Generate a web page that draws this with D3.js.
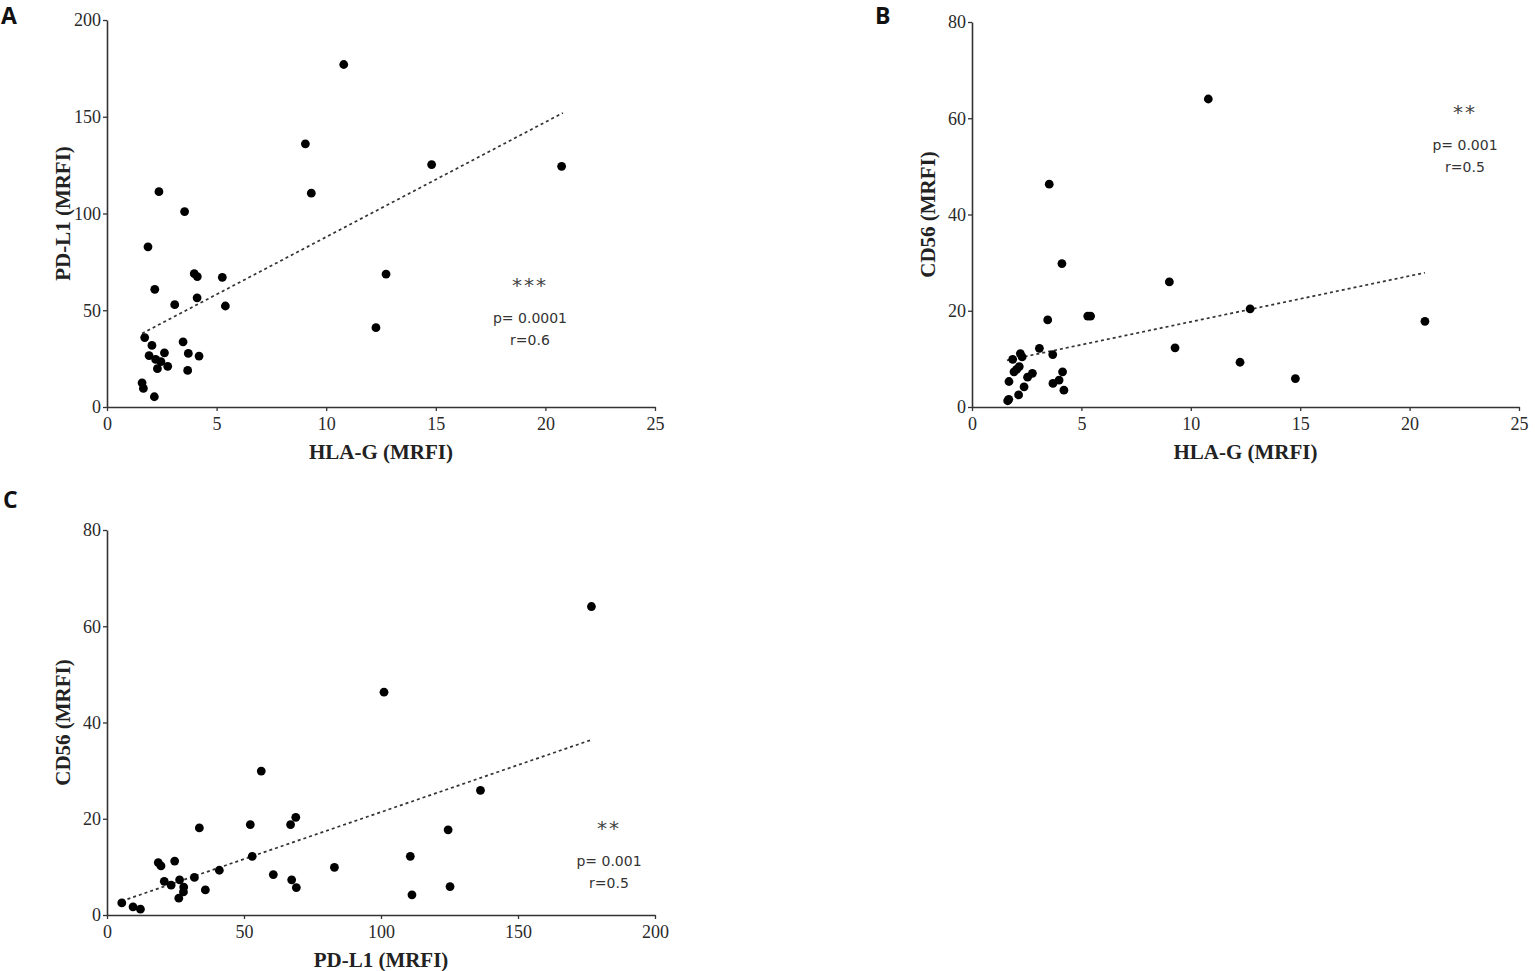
<!DOCTYPE html>
<html>
<head>
<meta charset="utf-8">
<script src="https://cdn.jsdelivr.net/npm/d3@7"></script>
<style>
  html, body { margin: 0; padding: 0; background: #fff; }
  svg { display: block; }
</style>
</head>
<body>
<svg id="chart" width="1535" height="971"></svg>
<script>
// ---------- DATA ----------
// Panel A: HLA-G (x) vs PD-L1 (y)
const hlaA  = [10.8, 9.05, 9.32, 14.81, 20.74, 12.73, 12.27, 2.37, 3.54, 1.87, 3.98, 4.12, 5.26, 2.18, 4.11, 3.09, 5.40, 1.72, 2.05, 3.47, 1.92, 2.62, 2.22, 2.46, 3.71, 4.20, 2.30, 2.77, 3.68, 1.60, 1.66, 2.16];
const pdl1A = [177, 136, 110.5, 125.3, 124.4, 68.7, 41, 111.3, 101, 82.8, 68.9, 67.4, 67, 60.8, 56.4, 52.9, 52.2, 35.9, 31.8, 33.7, 26.6, 28, 24.6, 23.4, 27.7, 26.3, 19.8, 21, 18.9, 12.5, 9.6, 5.3];
const fitXA = [1.6, 20.8];
const fitYA = [38, 152];

// Panel B: HLA-G (x) vs CD56 (y)
const hlaB  = [10.80, 9.02, 12.71, 9.28, 12.25, 14.78, 20.70, 3.53, 4.11, 3.46, 5.29, 5.42, 3.08, 3.69, 1.86, 2.21, 2.29, 2.16, 2.04, 1.92, 1.69, 2.76, 2.54, 2.38, 2.13, 1.68, 1.63, 4.14, 3.98, 3.70, 4.20];
const cd56B = [64.0, 26.0, 20.4, 12.3, 9.3, 5.9, 17.8, 46.3, 29.8, 18.1, 18.9, 18.9, 12.2, 10.9, 9.9, 11.1, 10.4, 8.4, 7.8, 7.3, 5.3, 7.0, 6.2, 4.2, 2.5, 1.6, 1.3, 7.3, 5.6, 4.9, 3.5];
const fitXB = [1.6, 20.7];
const fitYB = [9.7, 27.9];

// Panel C: PD-L1 (x) vs CD56 (y)
const pdl1C = [176.8, 101.1, 136.3, 124.5, 110.7, 125.2, 111.3, 56.3, 33.7, 52.3, 67.0, 68.9, 53.0, 18.7, 19.7, 24.7, 41.0, 83.0, 60.7, 20.9, 26.5, 31.9, 23.4, 28.0, 27.9, 35.9, 26.2, 67.4, 69.1, 5.4, 9.5, 12.2];
const cd56C = [64.1, 46.3, 25.9, 17.7, 12.2, 5.9, 4.2, 29.9, 18.1, 18.8, 18.8, 20.3, 12.2, 10.9, 10.2, 11.2, 9.3, 9.9, 8.4, 7.0, 7.3, 7.8, 6.2, 5.8, 4.8, 5.2, 3.5, 7.3, 5.7, 2.5, 1.7, 1.2];
const fitXC = [5.4, 176.8];
const fitYC = [2.9, 36.4];

// Tick labels
const ticksHLA  = [0, 5, 10, 15, 20, 25];
const ticksPDL1 = [0, 50, 100, 150, 200];
const ticksCD56 = [0, 20, 40, 60, 80];

// ---------- DRAW ----------
const svg = d3.select("#chart");
const serif = "'Liberation Serif', 'Times New Roman', serif";
const sans  = "'DejaVu Sans', Verdana, sans-serif";

function panel(o) {
  const x = d3.scaleLinear().domain(o.xDomain).range(o.xRange);
  const y = d3.scaleLinear().domain(o.yDomain).range(o.yRange);
  const g = svg.append("g");

  // axes
  const xa = g.append("g")
    .attr("transform", `translate(0,${o.yRange[0]})`)
    .call(d3.axisBottom(x).tickValues(o.xTicks).tickSize(4).tickSizeOuter(0).tickPadding(6).tickFormat(d3.format("d")));
  const ya = g.append("g")
    .attr("transform", `translate(${o.xRange[0]},0)`)
    .call(d3.axisLeft(y).tickValues(o.yTicks).tickSize(4).tickSizeOuter(0).tickPadding(2).tickFormat(d3.format("d")));
  [xa, ya].forEach(a => {
    a.select(".domain").attr("stroke", "#333").attr("stroke-width", 1.6);
    a.selectAll(".tick line").attr("stroke", "#333").attr("stroke-width", 1.3);
    a.selectAll(".tick text").attr("fill", "#2a2a2a")
      .style("font-family", serif).style("font-size", "18px");
  });

  // axis titles
  g.append("text")
    .attr("x", (o.xRange[0] + o.xRange[1]) / 2)
    .attr("y", o.yRange[0] + 52)
    .attr("text-anchor", "middle")
    .attr("fill", "#222")
    .style("font-family", serif).style("font-size", "21px").style("font-weight", "bold")
    .text(o.xTitle);
  g.append("text")
    .attr("transform", `translate(${o.xRange[0] - 37},${(o.yRange[0] + o.yRange[1]) / 2}) rotate(-90)`)
    .attr("text-anchor", "middle")
    .attr("fill", "#222")
    .style("font-family", serif).style("font-size", "21px").style("font-weight", "bold")
    .text(o.yTitle);

  // regression line
  g.append("line")
    .attr("x1", x(o.fitX[0])).attr("y1", y(o.fitY[0]))
    .attr("x2", x(o.fitX[1])).attr("y2", y(o.fitY[1]))
    .attr("stroke", "#333").attr("stroke-width", 1.7)
    .attr("stroke-dasharray", "3,3");

  // points
  g.selectAll("circle.pt").data(o.xs.map((v, i) => [v, o.ys[i]]))
    .enter().append("circle")
    .attr("class", "pt")
    .attr("cx", d => x(d[0])).attr("cy", d => y(d[1]))
    .attr("r", 4.4).attr("fill", "#000");

  // annotations
  const ax = o.annot.x, ay = o.annot.y;
  g.append("text").attr("x", ax).attr("y", ay)
    .attr("text-anchor", "middle").attr("fill", "#444")
    .style("font-family", sans).style("font-size", "20px").style("letter-spacing", "2px")
    .text(o.annot.stars);
  g.append("text").attr("x", ax).attr("y", ay + 31)
    .attr("text-anchor", "middle").attr("fill", "#333")
    .style("font-family", sans).style("font-size", "14px")
    .text(o.annot.p);
  g.append("text").attr("x", ax).attr("y", ay + 53)
    .attr("text-anchor", "middle").attr("fill", "#333")
    .style("font-family", sans).style("font-size", "14px")
    .text(o.annot.r);

  // panel letter
  svg.append("text").attr("x", o.letter.x).attr("y", o.letter.y)
    .attr("fill", "#111")
    .style("font-family", "'Open Sans', 'Liberation Sans', sans-serif")
    .style("font-size", "23px").style("font-weight", "bold")
    .text(o.letter.t);
}

panel({
  xDomain: [0, 25], xRange: [107, 655],
  yDomain: [0, 200], yRange: [407, 20],
  xTicks: ticksHLA, yTicks: ticksPDL1,
  xTitle: "HLA-G (MRFI)", yTitle: "PD-L1 (MRFI)",
  xs: hlaA, ys: pdl1A, fitX: fitXA, fitY: fitYA,
  annot: { x: 530, y: 292, stars: "***", p: "p= 0.0001", r: "r=0.6" },
  letter: { x: 1, y: 24, t: "A" }
});

panel({
  xDomain: [0, 25], xRange: [972, 1519],
  yDomain: [0, 80], yRange: [407, 22],
  xTicks: ticksHLA, yTicks: ticksCD56,
  xTitle: "HLA-G (MRFI)", yTitle: "CD56 (MRFI)",
  xs: hlaB, ys: cd56B, fitX: fitXB, fitY: fitYB,
  annot: { x: 1465, y: 119, stars: "**", p: "p= 0.001", r: "r=0.5" },
  letter: { x: 875, y: 24, t: "B" }
});

panel({
  xDomain: [0, 200], xRange: [107, 655],
  yDomain: [0, 80], yRange: [915, 530],
  xTicks: ticksPDL1, yTicks: ticksCD56,
  xTitle: "PD-L1 (MRFI)", yTitle: "CD56 (MRFI)",
  xs: pdl1C, ys: cd56C, fitX: fitXC, fitY: fitYC,
  annot: { x: 609, y: 835, stars: "**", p: "p= 0.001", r: "r=0.5" },
  letter: { x: 3, y: 508, t: "C" }
});
</script>
</body>
</html>
